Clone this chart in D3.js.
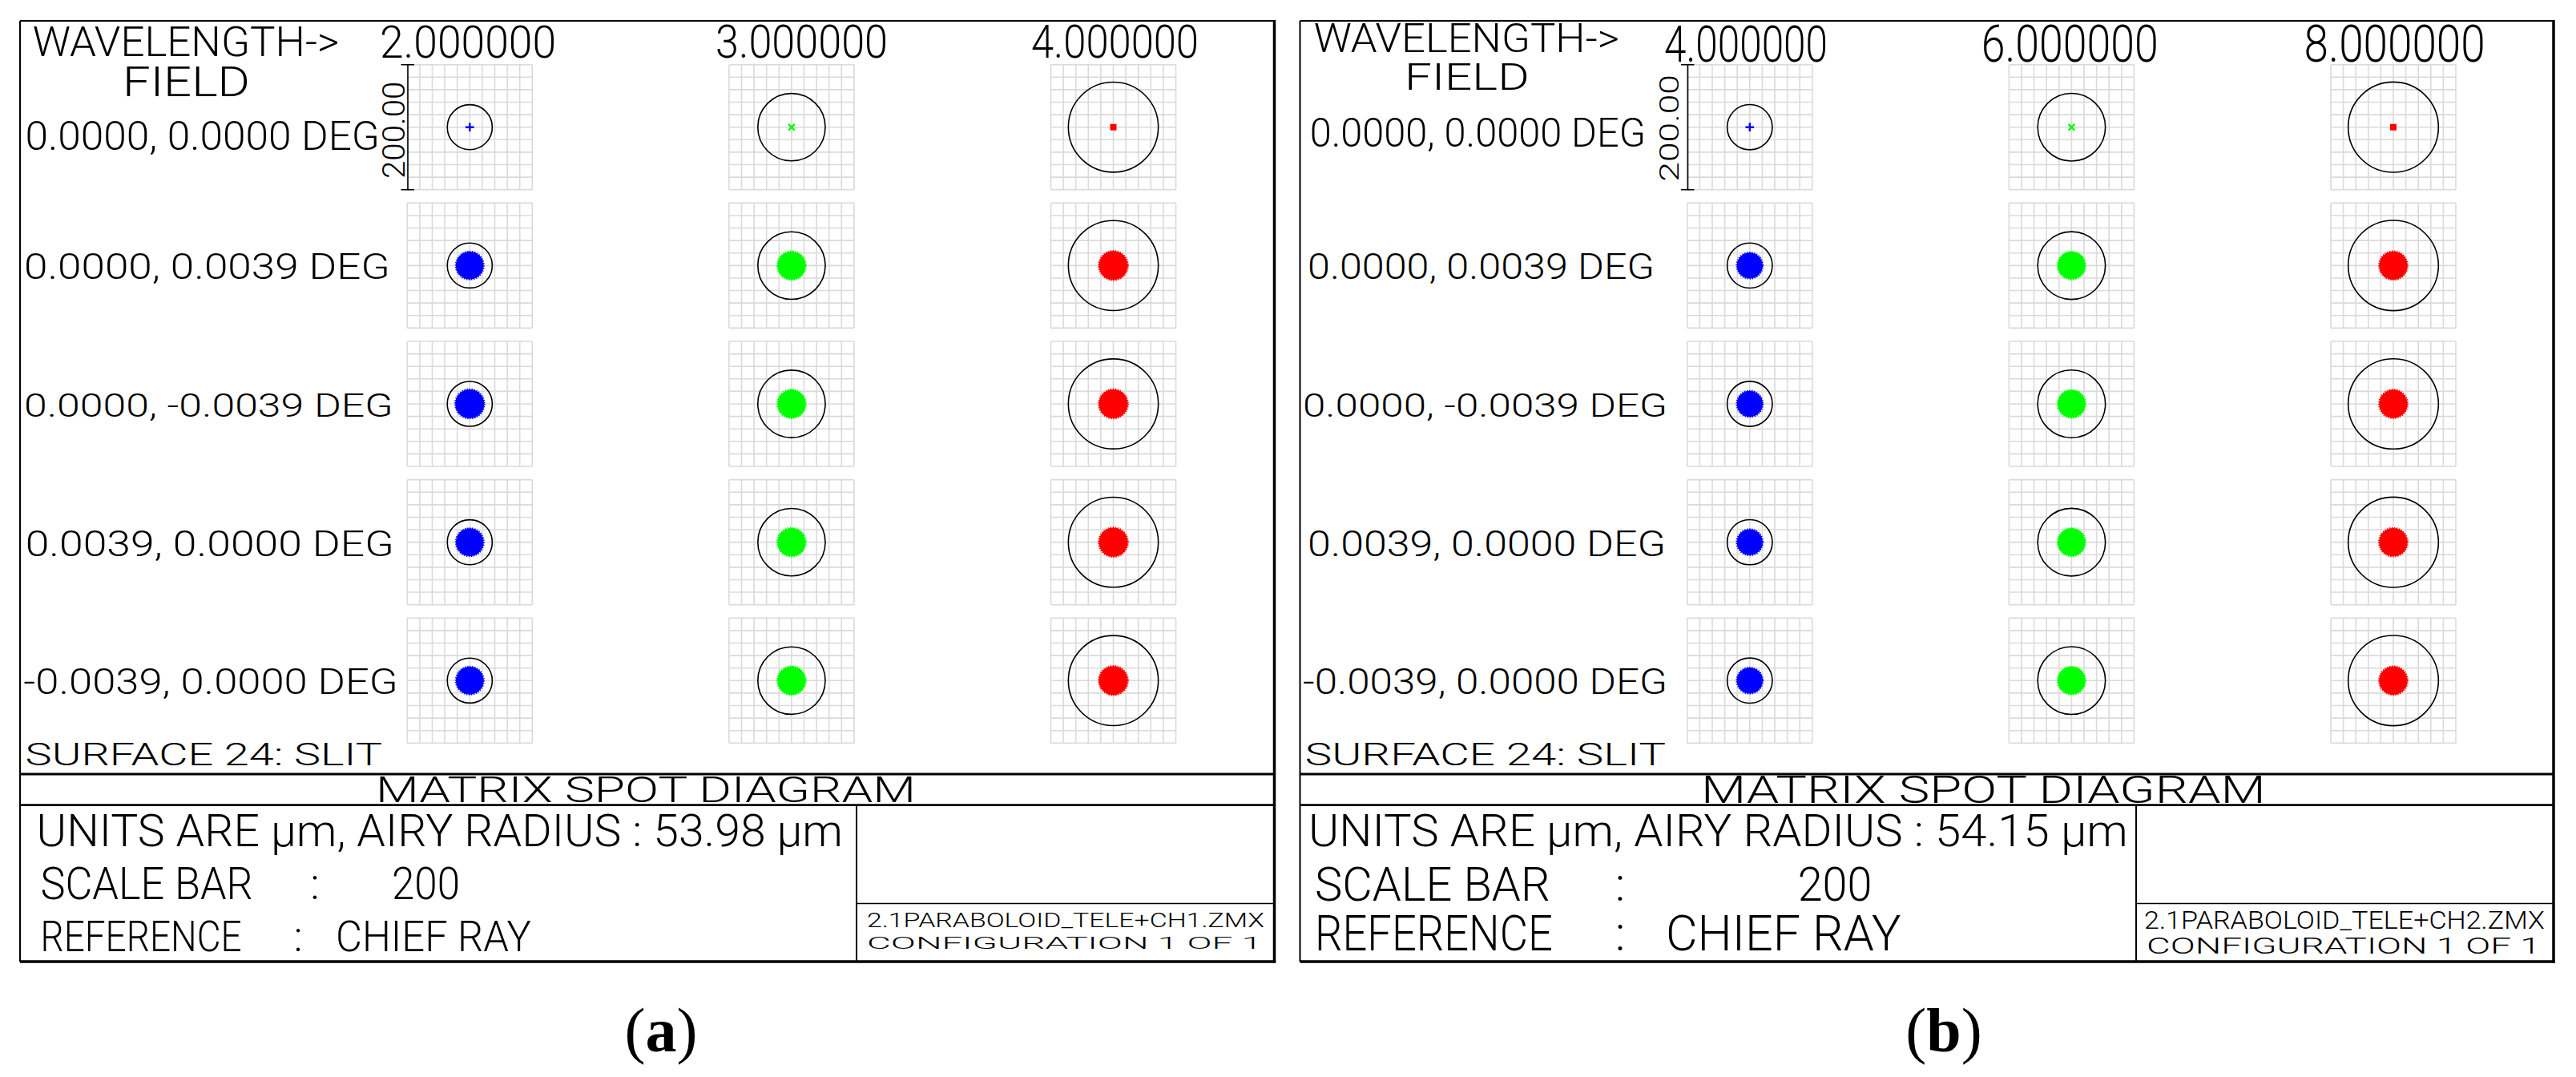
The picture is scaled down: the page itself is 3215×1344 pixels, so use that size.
<!DOCTYPE html>
<html>
<head>
<meta charset="utf-8">
<script src="https://cdn.jsdelivr.net/npm/d3@7"></script>
<style>
  body { margin: 0; background: #fff; }
  text { font-family: Roboto, "Liberation Sans Narrow", "DejaVu Sans", sans-serif; font-weight: 300; fill: #000; }
  .tag { font-family: "Liberation Serif", "DejaVu Serif", serif; font-weight: normal; }
</style>
</head>
<body>
<svg id="chart" width="3215" height="1344"></svg>
<script>
// data
var fieldLabels = ["0.0000, 0.0000 DEG", "0.0000, 0.0039 DEG", "0.0000, -0.0039 DEG", "0.0039, 0.0000 DEG", "-0.0039, 0.0000 DEG"];
var wavelengthsA = ["2.000000", "3.000000", "4.000000"];
var wavelengthsB = ["4.000000", "6.000000", "8.000000"];
var airyCircleA = [35.99, 53.98, 71.97];   // um, one per wavelength
var airyCircleB = [36.10, 54.15, 72.20];
// spot blob radius (um), rows = fields, cols = wavelengths; field 0 is a single symbol
var spotRadiusA = [[0, 0, 0], [23.5, 24, 24.5], [24.5, 24, 24.5], [23.5, 24, 24.5], [23.5, 24, 24.5]];
var spotRadiusB = [[0, 0, 0], [22, 23.5, 24], [22, 23.5, 24], [22, 23.5, 24], [22, 23.5, 24]];
var airyTextA = "UNITS ARE μm, AIRY RADIUS : 53.98 μm";
var airyTextB = "UNITS ARE μm, AIRY RADIUS : 54.15 μm";
var fileA = "2.1PARABOLOID_TELE+CH1.ZMX";
var fileB = "2.1PARABOLOID_TELE+CH2.ZMX";
var scaleBarValue = "200";
var scaleBarLabel = "200.00";
var colors = ["#0000ff", "#00ff00", "#ff0000"];

var svg = d3.select("#chart");
svg.append("rect").attr("width", 3215).attr("height", 1344).attr("fill", "#fff");

var gridSize = 156, colStep = 401.6, rowStep = 172.65, gridTop = 80.7;

// fit text into a measured box [x1, x2, top, baseline]
function fitText(g, str, box) {
  var fs = (box[3] - box[2]) / 0.711;
  return g.append("text")
    .attr("x", box[0]).attr("y", box[3])
    .attr("font-size", fs)
    .attr("textLength", box[1] - box[0])
    .attr("lengthAdjust", "spacingAndGlyphs")
    .text(str);
}
function colon(g, x, top, base) {
  g.append("text").attr("x", x).attr("y", base).attr("font-size", (base - top) / 0.711)
    .attr("text-anchor", "middle").text(":");
}

var panels = [
  { x0: 25, x1: 1590.5, divider: 1069, waves: wavelengthsA, airy: airyCircleA, spots: spotRadiusA,
    units: airyTextA, file: fileA, tag: "a", tagX: 825,
    wave: [40.8, 423.5, 32.7, 70],
    heads: [[474, 694, 31.7, 71.7], [893, 1108, 31.7, 72], [1287, 1496, 31.7, 72]],
    field: [153, 312, 83, 120],
    rows: [[31.6, 474, 151.7, 186.7], [30, 486.7, 317, 348], [30, 490.7, 491, 520], [31.7, 491.7, 663, 694], [29.3, 496.7, 834.8, 866]],
    scaleLab: [477, 505, 101.7, 223],
    surface: [31.6, 477, 927.7, 955],
    title: [469, 1143, 969, 1001],
    unitsBox: [45.6, 1052, 1016.7, 1055.7],
    scaleBar: [50.5, 315.7, 1082.7, 1121.7], scaleColon: 393, scaleVal: [489, 574],
    reference: [50.5, 301.6, 1148.7, 1186.7], refColon: 372, refVal: [419, 663],
    fileBox: [1082, 1578, 1139, 1156.7],
    config: [1082, 1575, 1170, 1184] },
  { x0: 1622.5, x1: 3187, divider: 2666, waves: wavelengthsB, airy: airyCircleB, spots: spotRadiusB,
    units: airyTextB, file: fileB, tag: "b", tagX: 2426,
    wave: [1639.8, 2021, 29.3, 65],
    heads: [[2077, 2281, 31.7, 76.7], [2472.8, 2693.7, 31.7, 77.3], [2875.6, 3101.7, 31.7, 77.3]],
    field: [1753, 1908.7, 78.3, 111.7],
    rows: [[1634.7, 2054, 148.3, 183.3], [1632, 2065, 317, 348], [1626, 2081, 491, 520], [1632, 2079, 663, 694], [1626, 2081, 834.8, 866]],
    scaleLab: [2072, 2095, 93, 226.7],
    surface: [1628.8, 2079, 928, 955],
    title: [2123, 2827.7, 967, 1001.7],
    unitsBox: [1633, 2655.7, 1016.7, 1055.7],
    scaleBar: [1641, 1934.7, 1081.7, 1124], scaleColon: 2022, scaleVal: [2243.7, 2336.4],
    reference: [1641, 1937.8, 1143, 1186], refColon: 2022, refVal: [2079, 2372.5],
    fileBox: [2676, 3175.8, 1136.7, 1159],
    config: [2679, 3170.7, 1170, 1190] }
];

panels.forEach(function(p) {
  var g = svg.append("g");

  // cells
  fieldLabels.forEach(function(f, r) {
    p.waves.forEach(function(w, c) {
      var left = p.x0 + 483.3 + c * colStep, top = gridTop + r * rowStep;
      var x = d3.scaleLinear().domain([-100, 100]).range([left, left + gridSize]);
      var y = d3.scaleLinear().domain([-100, 100]).range([top + gridSize, top]);
      var cell = g.append("g");
      cell.selectAll("line.v").data(x.ticks(10)).enter().append("line")
        .attr("x1", function(d) { return x(d); }).attr("x2", function(d) { return x(d); })
        .attr("y1", top).attr("y2", top + gridSize)
        .attr("stroke", "#dadada").attr("stroke-width", 1.6);
      cell.selectAll("line.h").data(y.ticks(10)).enter().append("line")
        .attr("y1", function(d) { return y(d); }).attr("y2", function(d) { return y(d); })
        .attr("x1", left).attr("x2", left + gridSize)
        .attr("stroke", "#dadada").attr("stroke-width", 1.6);

      // airy circle
      cell.append("circle").attr("cx", x(0)).attr("cy", y(0))
        .attr("r", x(p.airy[c]) - x(0))
        .attr("fill", "none").attr("stroke", "#000").attr("stroke-width", 1.6);

      var rad = p.spots[r][c];
      if (rad > 0) {
        cell.append("circle").attr("cx", x(0)).attr("cy", y(0))
          .attr("r", x(rad) - x(0) - 1)
          .attr("fill", colors[c]).attr("stroke", colors[c])
          .attr("stroke-width", 2.4).attr("stroke-dasharray", "1.4 1.6");
      } else {
        var sym = [d3.symbolPlus, d3.symbolX, d3.symbolSquare][c];
        var path = cell.append("path")
          .attr("transform", "translate(" + x(0) + "," + y(0) + ")")
          .attr("d", d3.symbol(sym, c === 2 ? 64 : 40)());
        if (c === 2) path.attr("fill", colors[c]);
        else path.attr("fill", "none").attr("stroke", colors[c]).attr("stroke-width", 2.4);
      }

      // scale bar on the first cell
      if (r === 0 && c === 0) {
        var sx = left + 0.7;
        cell.append("line").attr("x1", sx).attr("x2", sx).attr("y1", y(100)).attr("y2", y(-100))
          .attr("stroke", "#000").attr("stroke-width", 1.6);
        [100, -100].forEach(function(v) {
          cell.append("line").attr("x1", sx - 8.5).attr("x2", sx + 8).attr("y1", y(v)).attr("y2", y(v))
            .attr("stroke", "#000").attr("stroke-width", 1.6);
        });
        var b = p.scaleLab;
        g.append("text")
          .attr("transform", "translate(" + b[1] + "," + b[3] + ") rotate(-90)")
          .attr("font-size", (b[1] - b[0]) / 0.711)
          .attr("textLength", b[3] - b[2]).attr("lengthAdjust", "spacingAndGlyphs")
          .text(scaleBarLabel);
      }
    });
  });

  // header texts
  fitText(g, "WAVELENGTH->", p.wave);
  p.waves.forEach(function(w, i) { fitText(g, w, p.heads[i]); });
  fitText(g, "FIELD", p.field);
  fieldLabels.forEach(function(f, i) { fitText(g, f, p.rows[i]); });

  // bottom block
  fitText(g, "SURFACE 24: SLIT", p.surface);
  fitText(g, "MATRIX SPOT DIAGRAM", p.title);
  fitText(g, p.units, p.unitsBox);
  fitText(g, "SCALE BAR", p.scaleBar);
  colon(g, p.scaleColon, p.scaleBar[2], p.scaleBar[3]);
  fitText(g, scaleBarValue, [p.scaleVal[0], p.scaleVal[1], p.scaleBar[2], p.scaleBar[3]]);
  fitText(g, "REFERENCE", p.reference);
  colon(g, p.refColon, p.reference[2], p.reference[3]);
  fitText(g, "CHIEF RAY", [p.refVal[0], p.refVal[1], p.reference[2], p.reference[3]]);
  fitText(g, p.file, p.fileBox);
  fitText(g, "CONFIGURATION 1 OF 1", p.config);

  // frame and rules
  var ln = function(x1, y1, x2, y2, w) {
    g.append("line").attr("x1", x1).attr("y1", y1).attr("x2", x2).attr("y2", y2)
      .attr("stroke", "#000").attr("stroke-width", w);
  };
  ln(p.x0, 26, p.x1, 26, 2);
  ln(p.x0, 26, p.x0, 1200, 2);
  ln(p.x1, 25, p.x1, 1201.5, 3.5);
  ln(p.x0, 1200, p.x1 + 1.7, 1200, 3.5);
  ln(p.x0, 966, p.x1, 966, 2.8);
  ln(p.x0, 1004.7, p.x1, 1004.7, 2.8);
  ln(p.divider, 1004.7, p.divider, 1200, 2);
  ln(p.divider, 1127.5, p.x1, 1127.5, 1.6);

  // panel tag
  var t = svg.append("text").attr("class", "tag").attr("x", p.tagX).attr("y", 1312)
    .attr("font-size", 78).attr("text-anchor", "middle");
  t.append("tspan").text("(");
  t.append("tspan").attr("font-weight", "bold").text(p.tag);
  t.append("tspan").text(")");
});
</script>
</body>
</html>
